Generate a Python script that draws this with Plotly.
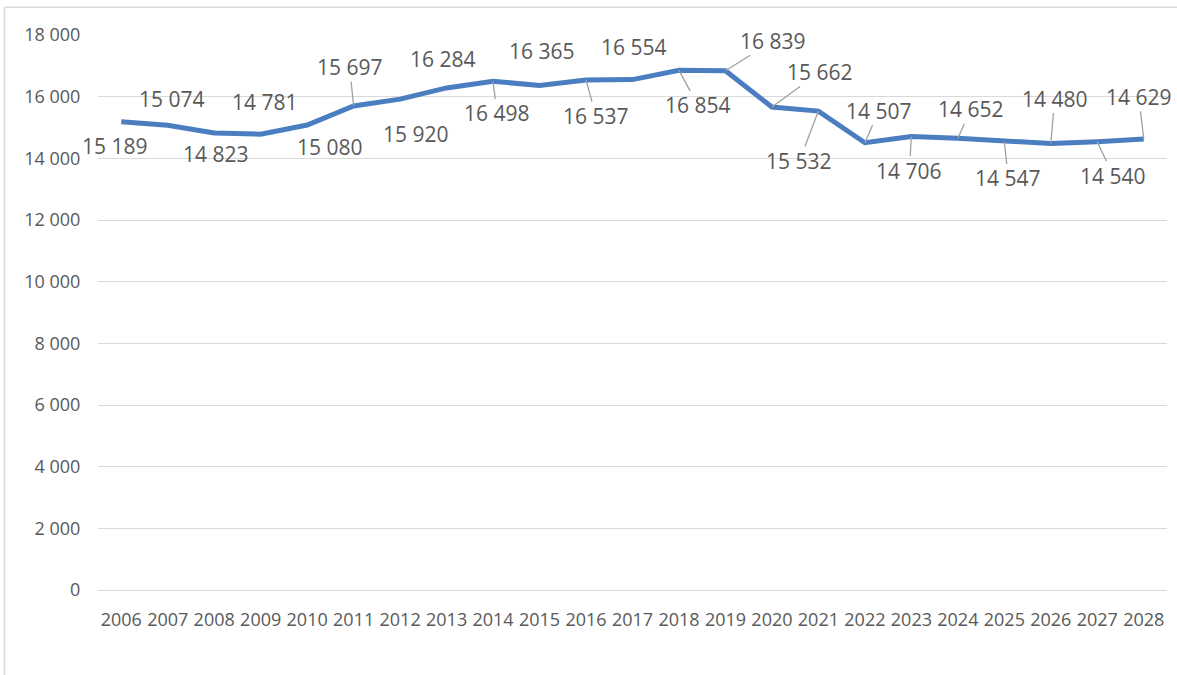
import plotly.graph_objects as go

years = [str(y) for y in range(2006, 2029)]
values = [15189, 15074, 14823, 14781, 15080, 15697, 15920, 16284, 16498, 16365,
          16537, 16554, 16854, 16839, 15662, 15532, 14507, 14706, 14652, 14547,
          14480, 14540, 14629]
y_ticks = [0, 2000, 4000, 6000, 8000, 10000, 12000, 14000, 16000, 18000]
y_tick_labels = ["0", "2 000", "4 000", "6 000", "8 000", "10 000", "12 000",
                 "14 000", "16 000", "18 000"]

# label offsets in pixels (dx, dy) relative to point, and whether a leader line shows
label_dx = [-6, 4, 2, 4, 23, -4, 16, -4, 4, 2, 10, 1, 19, 48, 48, -19, 14, -2, 13, 4, 4, 16, -5]
label_dy = [24, -26, 21, -32, 22, -39, 35, -29, 32, -34, 36, -33, 35, -30, -35, 50, -32, 34, -29, 37, -45, 34, -42]
leader = [False, False, False, False, False, True, True, False, True, False,
          True, False, True, True, True, True, True, True, True, True, True, True, True]

FONT = "Open Sans"
TXT = "#595959"

fig = go.Figure()
fig.add_trace(go.Scatter(
    x=years, y=values, mode="lines",
    line=dict(color="#4A7EC1", width=5),
    hoverinfo="skip", showlegend=False,
))

def fmt(v):
    return f"{v:,}".replace(",", " ")

annotations = []
for i, (v, dx, dy, ld) in enumerate(zip(values, label_dx, label_dy, leader)):
    annotations.append(dict(
        x=i, y=v, xref="x", yref="y",
        text=fmt(v), showarrow=True, ax=dx, ay=dy,
        arrowhead=0, arrowwidth=1.3 if ld else 0.1,
        arrowcolor="#A0A0A0" if ld else "rgba(0,0,0,0)",
        standoff=0,
        font=dict(family=FONT, size=21, color=TXT),
        borderpad=0,
    ))

fig.update_layout(
    width=1177, height=675,
    margin=dict(l=98, r=10, t=35, b=85),
    paper_bgcolor="white", plot_bgcolor="white",
    font=dict(family=FONT, color=TXT),
    annotations=annotations,
    shapes=[
        dict(type="line", xref="paper", yref="paper", x0=-0.0875, x1=1.02, y0=1.05, y1=1.05,
             line=dict(color="#D9D9D9", width=1.5)),
        dict(type="line", xref="paper", yref="paper", x0=-0.0875, x1=-0.0875, y0=1.05, y1=-0.2,
             line=dict(color="#D9D9D9", width=1.5)),
    ],
)
fig.update_xaxes(
    type="category", showgrid=False, zeroline=False, showline=False,
    tickfont=dict(family=FONT, size=18, color=TXT),
    ticks="outside", ticklen=13, tickcolor="rgba(0,0,0,0)",
    range=[-0.5, len(years) - 0.5],
)
fig.update_yaxes(
    range=[0, 18000], tickvals=y_ticks, ticktext=y_tick_labels,
    showgrid=True, gridcolor="#D9D9D9", gridwidth=1.3,
    zeroline=True, zerolinecolor="#D9D9D9", zerolinewidth=1.3,
    showline=False, ticks="outside", ticklen=13, tickcolor="rgba(0,0,0,0)",
    tickfont=dict(family=FONT, size=18, color=TXT),
)

fig.write_html("out.html")
